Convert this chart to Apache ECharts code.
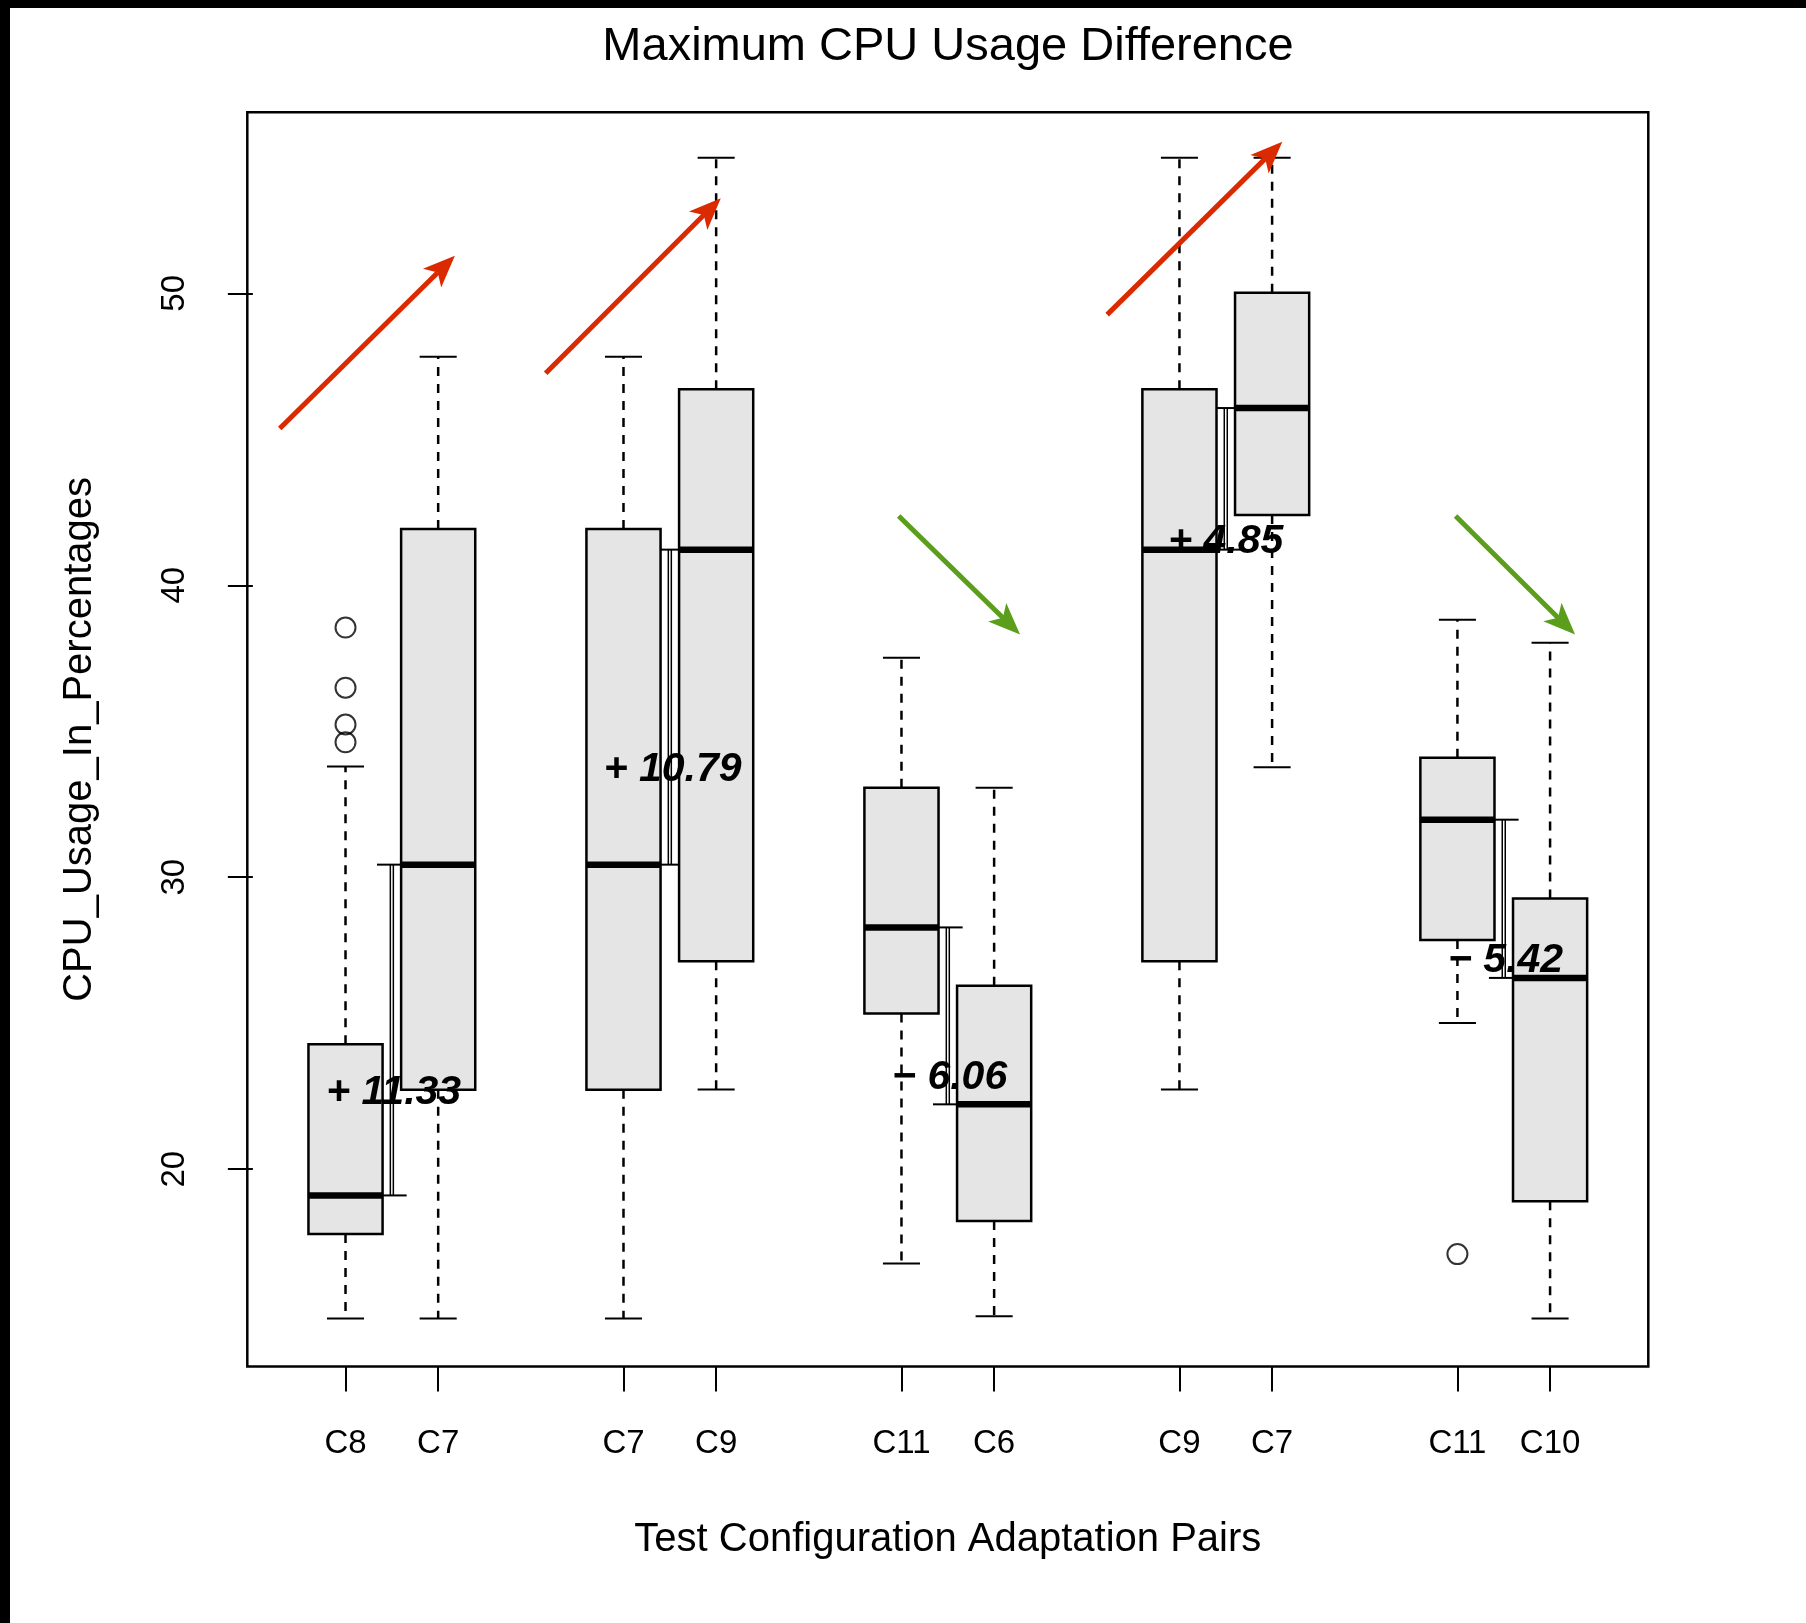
<!DOCTYPE html>
<html>
<head>
<meta charset="utf-8">
<title>Maximum CPU Usage Difference</title>
<script src="https://cdn.jsdelivr.net/npm/echarts@6/dist/echarts.min.js"></script>
<style>
  html, body { margin: 0; padding: 0; background: #fff; }
  #chart { width: 1806px; height: 1623px; }
</style>
</head>
<body>
<div id="chart"></div>
<script>
// box positions along x (R boxplot "at") and their names
const positions = [1, 2, 4, 5, 7, 8, 10, 11, 13, 14];
const categories = ["C8", "C7", "C7", "C9", "C11", "C6", "C9", "C7", "C11", "C10"];

// five-number summaries
const lowerWhisker = [14.88, 14.88, 14.88, 22.73, 16.77, 14.96, 22.73, 33.77, 25.01, 14.88];
const lowerQuartile = [17.78, 22.72, 22.72, 27.12, 25.33, 18.22, 27.12, 42.41, 27.85, 18.9];
const medians = [19.1, 30.43, 30.43, 41.22, 28.28, 22.22, 41.22, 46.07, 31.97, 26.55];
const upperQuartile = [24.28, 41.93, 41.93, 46.71, 33.06, 26.28, 46.71, 50.02, 34.09, 29.27];
const upperWhisker = [33.79, 47.83, 47.83, 54.64, 37.52, 33.06, 54.64, 54.64, 38.82, 38.03];

// outliers
const outlierX = [1, 1, 1, 1, 13];
const outlierY = [38.55, 36.49, 35.23, 34.62, 17.09];

// median difference brackets + labels
const diffX = [1.5, 4.5, 7.5, 10.5, 13.5];
const diffFrom = [19.1, 30.43, 28.28, 41.22, 31.97];
const diffTo = [30.43, 41.22, 22.22, 46.07, 26.55];
const diffText = ["+ 11.33", "+ 10.79", "\u2212 6.06", "+ 4.85", "\u2212 5.42"];
const diffLabelX = [1.52, 4.53, 7.52, 10.5, 13.52];
const diffLabelY = [22.61, 33.69, 23.12, 41.5, 27.14];

// trend arrows (data coordinates)
const arrowX0 = [0.29, 3.16, 6.97, 9.22, 12.98];
const arrowY0 = [45.37, 47.26, 42.37, 49.27, 42.37];
const arrowX1 = [2.18, 5.05, 8.28, 11.11, 14.27];
const arrowY1 = [51.29, 53.26, 38.31, 55.19, 38.31];

const yTicks = [20, 30, 40, 50];

const FONT = "'Liberation Sans', Arial, Helvetica, sans-serif";

const boxData = positions.map((p, i) => [
  p, lowerWhisker[i], lowerQuartile[i], medians[i], upperQuartile[i], upperWhisker[i]
]);
const outlierData = outlierX.map((x, i) => [x, outlierY[i]]);
const bracketData = diffX.map((x, i) => [x, diffFrom[i], diffTo[i]]);
const labelData = diffLabelX.map((x, i) => [x, diffLabelY[i]]);
const arrowData = arrowX0.map((x, i) => [x, arrowY0[i], arrowX1[i], arrowY1[i]]);

const dashed = { stroke: "#000", lineWidth: 2.5, lineDash: [9, 8] };
const solid = { stroke: "#000", lineWidth: 2 };

function renderBox(params, api) {
  const x = api.value(0);
  const pLw = api.coord([x, api.value(1)]);
  const pQ1 = api.coord([x, api.value(2)]);
  const pMed = api.coord([x, api.value(3)]);
  const pQ3 = api.coord([x, api.value(4)]);
  const pUw = api.coord([x, api.value(5)]);
  const halfBox = api.size([0.4, 0])[0];
  const halfCap = api.size([0.2, 0])[0];
  const cx = pMed[0];
  return {
    type: "group",
    children: [
      { type: "line", shape: { x1: cx, y1: pQ3[1], x2: cx, y2: pUw[1] }, style: dashed },
      { type: "line", shape: { x1: cx, y1: pQ1[1], x2: cx, y2: pLw[1] }, style: dashed },
      { type: "line", shape: { x1: cx - halfCap, y1: pUw[1], x2: cx + halfCap, y2: pUw[1] }, style: solid },
      { type: "line", shape: { x1: cx - halfCap, y1: pLw[1], x2: cx + halfCap, y2: pLw[1] }, style: solid },
      {
        type: "rect",
        shape: { x: cx - halfBox, y: pQ3[1], width: 2 * halfBox, height: pQ1[1] - pQ3[1] },
        style: { fill: "#e5e5e5", stroke: "#000", lineWidth: 2.5 }
      },
      {
        type: "line",
        shape: { x1: cx - halfBox, y1: pMed[1], x2: cx + halfBox, y2: pMed[1] },
        style: { stroke: "#000", lineWidth: 6.5 }
      }
    ]
  };
}

function renderBracket(params, api) {
  const x = api.value(0);
  const p1 = api.coord([x, api.value(1)]);
  const p2 = api.coord([x, api.value(2)]);
  const half = api.size([0.16, 0])[0];
  const cx = p1[0];
  return {
    type: "group",
    children: [
      { type: "line", shape: { x1: cx - 1.5, y1: p1[1], x2: cx - 1.5, y2: p2[1] }, style: { stroke: "#000", lineWidth: 1.5 } },
      { type: "line", shape: { x1: cx + 1.5, y1: p1[1], x2: cx + 1.5, y2: p2[1] }, style: { stroke: "#000", lineWidth: 1.5 } },
      { type: "line", shape: { x1: cx - half, y1: p1[1], x2: cx + half, y2: p1[1] }, style: solid },
      { type: "line", shape: { x1: cx - half, y1: p2[1], x2: cx + half, y2: p2[1] }, style: solid }
    ]
  };
}

function renderLabel(params, api) {
  const p = api.coord([api.value(0), api.value(1)]);
  return {
    type: "text",
    x: p[0],
    y: p[1],
    style: {
      text: diffText[params.dataIndex],
      font: "italic bold 41px " + FONT,
      fill: "#000",
      align: "center",
      verticalAlign: "middle"
    },
    z2: 10
  };
}

function renderArrow(params, api) {
  const a = api.coord([api.value(0), api.value(1)]);
  const b = api.coord([api.value(2), api.value(3)]);
  const up = api.value(3) > api.value(1);
  const color = up ? "#dc2a00" : "#5a9e1c";
  const dx = b[0] - a[0], dy = b[1] - a[1];
  const len = Math.sqrt(dx * dx + dy * dy);
  const ux = dx / len, uy = dy / len;
  const nx = -uy, ny = ux;
  const headLen = 32, headHalf = 13, notch = 24;
  const base = [b[0] - ux * headLen, b[1] - uy * headLen];
  const back = [b[0] - ux * notch, b[1] - uy * notch];
  return {
    type: "group",
    children: [
      { type: "line", shape: { x1: a[0], y1: a[1], x2: back[0], y2: back[1] }, style: { stroke: color, lineWidth: 5 } },
      {
        type: "polygon",
        shape: {
          points: [
            b,
            [base[0] + nx * headHalf, base[1] + ny * headHalf],
            back,
            [base[0] - nx * headHalf, base[1] - ny * headHalf]
          ]
        },
        style: { fill: color }
      }
    ]
  };
}

const chart = echarts.init(document.getElementById("chart"), null, { renderer: "canvas" });

chart.setOption({
  backgroundColor: "#fff",
  animation: false,
  title: {
    text: "Maximum CPU Usage Difference",
    left: 948,
    top: 23.5,
    textAlign: "center",
    padding: 0,
    textStyle: { fontFamily: FONT, fontSize: 47, fontWeight: "normal", color: "#000" }
  },
  grid: {
    left: 247.3,
    right: 157.7,
    top: 112.3,
    bottom: 256.5,
    show: true,
    borderColor: "#000",
    borderWidth: 2.5,
    backgroundColor: "transparent"
  },
  xAxis: {
    type: "value",
    min: -0.06,
    max: 15.06,
    name: "Test Configuration Adaptation Pairs",
    nameLocation: "middle",
    nameGap: 153,
    nameTextStyle: { fontFamily: FONT, fontSize: 40, color: "#000" },
    axisLine: { show: false },
    splitLine: { show: false },
    axisTick: {
      show: true,
      length: 25,
      customValues: positions,
      lineStyle: { color: "#000", width: 2 }
    },
    axisLabel: {
      customValues: positions,
      margin: 61,
      fontFamily: FONT,
      fontSize: 33,
      color: "#000",
      formatter: (v) => {
        const i = positions.indexOf(v);
        return i >= 0 ? categories[i] : "";
      }
    }
  },
  yAxis: {
    type: "value",
    min: 13.24,
    max: 56.2,
    name: "CPU_Usage_In_Percentages",
    nameLocation: "middle",
    nameGap: 147,
    nameTextStyle: { fontFamily: FONT, fontSize: 40, color: "#000" },
    axisLine: { show: false },
    splitLine: { show: false },
    axisTick: {
      show: true,
      length: 25,
      customValues: yTicks,
      lineStyle: { color: "#000", width: 2 }
    },
    axisLabel: {
      customValues: yTicks,
      rotate: 90,
      margin: 56,
      fontFamily: FONT,
      fontSize: 33,
      color: "#000"
    }
  },
  series: [
    {
      type: "custom",
      name: "brackets",
      renderItem: renderBracket,
      data: bracketData,
      encode: { x: 0, y: [1, 2] },
      silent: true,
      z: 2
    },
    {
      type: "custom",
      name: "boxes",
      renderItem: renderBox,
      data: boxData,
      encode: { x: 0, y: [1, 2, 3, 4, 5] },
      silent: true,
      z: 3
    },
    {
      type: "scatter",
      name: "outliers",
      data: outlierData,
      symbol: "circle",
      symbolSize: 20,
      itemStyle: { color: "rgba(0,0,0,0)", borderColor: "#000", borderWidth: 2 },
      silent: true,
      z: 4
    },
    {
      type: "custom",
      name: "differences",
      renderItem: renderLabel,
      data: labelData,
      silent: true,
      z: 5
    },
    {
      type: "custom",
      name: "arrows",
      renderItem: renderArrow,
      data: arrowData,
      encode: { x: [0, 2], y: [1, 3] },
      silent: true,
      z: 6
    }
  ],
  graphic: [
    { type: "rect", shape: { x: 0, y: 0, width: 1806, height: 8 }, style: { fill: "#000" }, z: 100 },
    { type: "rect", shape: { x: 0, y: 0, width: 10, height: 1623 }, style: { fill: "#000" }, z: 100 }
  ]
});
</script>
</body>
</html>
